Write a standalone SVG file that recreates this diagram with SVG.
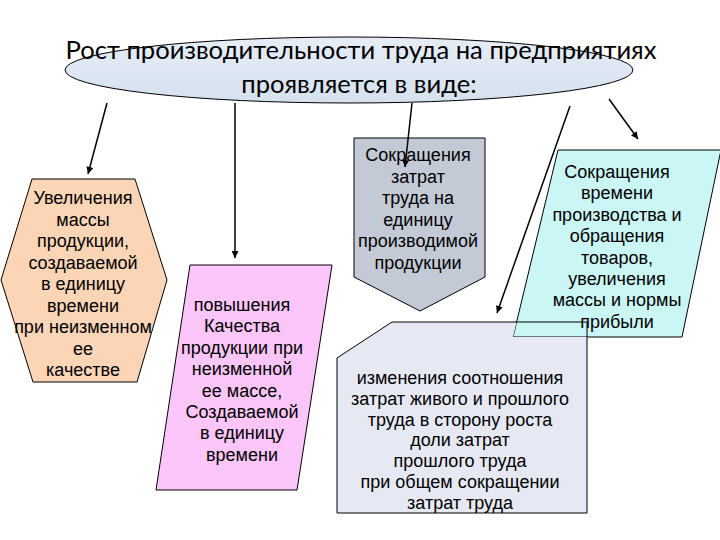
<svg xmlns="http://www.w3.org/2000/svg" width="720" height="540" viewBox="0 0 720 540">
<defs>
<marker id="ah" viewBox="0 0 10 10" refX="10" refY="5" markerWidth="8" markerHeight="7" markerUnits="userSpaceOnUse" orient="auto">
<path d="M0,0 L10,5 L0,10 Z" fill="#000"/>
</marker>
<linearGradient id="eg" x1="0" y1="0" x2="0" y2="1">
<stop offset="0" stop-color="#e6edf7"/>
<stop offset="1" stop-color="#d6e1ef"/>
</linearGradient>
</defs>
<style>
.t{font-family:"Liberation Sans",Arial,sans-serif;font-size:18px;fill:#000;text-anchor:middle}
.title{font-family:Lato,"Open Sans",sans-serif;font-size:25.6px;fill:#000;text-anchor:middle}
.sh{stroke:#000;stroke-width:1}
.c{stroke:#000;stroke-width:1.5;fill:none;marker-end:url(#ah)}
</style>
<rect width="720" height="540" fill="#fff"/>
<g id="title">
<ellipse cx="349" cy="70" rx="284" ry="33" fill="url(#eg)" class="sh"/>
<text class="title" x="361" y="59">Рост производительности труда на предприятиях</text>
<text class="title" x="359" y="93">проявляется в виде:</text>
</g>
<g id="mass">
<polygon points="32,179 135,179 167,280 137,382 33,382 1,280" fill="#fbd5b5" class="sh"/>
<text class="t" x="83" y="204">Увеличения</text>
<text class="t" x="83" y="225.5">массы</text>
<text class="t" x="83" y="247">продукции,</text>
<text class="t" x="83" y="268.5">создаваемой</text>
<text class="t" x="83" y="290">в единицу</text>
<text class="t" x="83" y="311.5">времени</text>
<text class="t" x="83" y="333">при неизменном</text>
<text class="t" x="83" y="354.5">ее</text>
<text class="t" x="83" y="376">качестве</text>
</g>
<g id="quality">
<polygon points="190,265 332,265 297,490 156,490" fill="#fcc6fa" class="sh"/>
<text class="t" x="242" y="311">повышения</text>
<text class="t" x="242" y="332.4">Качества</text>
<text class="t" x="242" y="353.8">продукции при</text>
<text class="t" x="242" y="375.2">неизменной</text>
<text class="t" x="242" y="396.6">ее массе,</text>
<text class="t" x="242" y="418">Создаваемой</text>
<text class="t" x="242" y="439.4">в единицу</text>
<text class="t" x="242" y="460.8">времени</text>
</g>
<g id="cost">
<polygon points="354,138 485,138 485,277 420,311 354,277" fill="#c3cad6" class="sh"/>
<text class="t" x="418" y="161">Сокращения</text>
<text class="t" x="418" y="182.5">затрат</text>
<text class="t" x="418" y="204">труда на</text>
<text class="t" x="418" y="225.5">единицу</text>
<text class="t" x="418" y="247">производимой</text>
<text class="t" x="418" y="268.5">продукции</text>
</g>
<g id="time">
<polygon points="558,150 721,150 682,337 513,337" fill="#cbf6f6" class="sh"/>
<text class="t" x="617" y="178">Сокращения</text>
<text class="t" x="617" y="199.4">времени</text>
<text class="t" x="617" y="220.8">производства и</text>
<text class="t" x="617" y="242.2">обращения</text>
<text class="t" x="617" y="263.6">товаров,</text>
<text class="t" x="617" y="285">увеличения</text>
<text class="t" x="617" y="306.4">массы и нормы</text>
<text class="t" x="617" y="327.8">прибыли</text>
</g>
<g id="ratio">
<polygon points="392,322 516.6,322 513,337 587,337 587,513 337,513 337,358" fill="#e6e9f4"/>
<polygon points="392,322 587,322 587,513 337,513 337,358" fill="none" class="sh"/>
<text class="t" x="460" y="384">изменения соотношения</text>
<text class="t" x="460" y="404.8">затрат живого и прошлого</text>
<text class="t" x="460" y="425.6">труда в сторону роста</text>
<text class="t" x="460" y="446.4">доли затрат</text>
<text class="t" x="460" y="467.2">прошлого труда</text>
<text class="t" x="460" y="488">при общем сокращении</text>
<text class="t" x="460" y="508.8">затрат труда</text>
</g>
<g id="connectors">
<line x1="107" y1="103" x2="88" y2="174" class="c"/>
<line x1="235" y1="103" x2="235" y2="258" class="c"/>
<line x1="412" y1="103" x2="405" y2="167" class="c"/>
<line x1="570" y1="106" x2="497" y2="313" class="c"/>
<line x1="609" y1="99" x2="638" y2="139" class="c"/>
</g>
</svg>
